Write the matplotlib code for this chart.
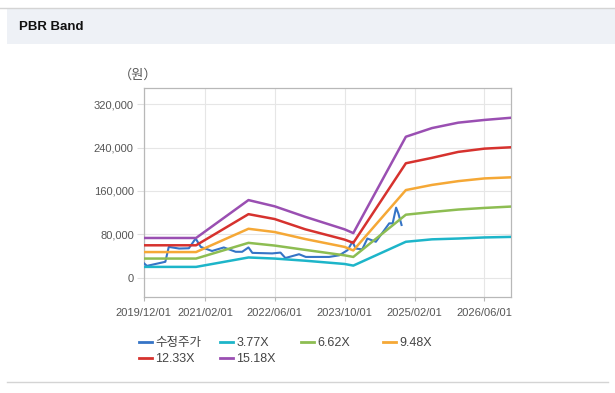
import numpy as np
import matplotlib
matplotlib.use('Agg')
import matplotlib.pyplot as plt
import matplotlib.dates as mdates
from matplotlib.lines import Line2D
from matplotlib.patches import Rectangle
from matplotlib.ticker import FuncFormatter

plt.rcParams['font.family'] = ['Liberation Sans', 'Noto Sans CJK KR']

# adjusted close (수정주가)
price_dates = np.array(['2019-12-01', '2019-12-25', '2020-05-01', '2020-05-25', '2020-08-05',
                        '2020-10-12', '2020-11-28', '2021-01-03', '2021-03-22', '2021-06-12',
                        '2021-09-03', '2021-10-18', '2021-12-01', '2021-12-28', '2022-05-15',
                        '2022-07-12', '2022-08-15', '2022-11-18', '2023-01-04', '2023-06-15',
                        '2023-08-25', '2023-10-22', '2023-11-25', '2023-12-18', '2024-02-01',
                        '2024-03-08', '2024-05-06', '2024-07-04', '2024-08-07', '2024-08-31',
                        '2024-09-24', '2024-10-10', '2024-11-01'], dtype='datetime64[D]')
price = [27000, 21500, 29000, 56500, 53500,
         54000, 72000, 56500, 49000, 55500,
         47500, 47500, 55500, 45500, 44500,
         46000, 36000, 43000, 38000, 38000,
         41000, 50500, 66000, 53500, 52000,
         72000, 66000, 87500, 100000, 100000,
         129000, 118000, 97000]

# PBR bands
band_dates = np.array(['2019-12-01', '2020-12-01', '2021-12-01', '2022-06-01', '2023-01-01',
                       '2023-10-01', '2023-12-01', '2024-12-01', '2025-06-01', '2025-12-01',
                       '2026-06-01', '2026-12-01'], dtype='datetime64[D]')
band_377 = [19600, 19600, 37000, 35000, 31000, 25000, 22000, 66000, 70500, 72000, 74000, 75000]
band_662 = [35000, 35000, 64000, 59000, 51000, 41000, 38000, 116000, 121000, 125500, 128500, 131000]
band_948 = [47000, 47000, 90000, 84000, 71000, 56500, 50000, 161500, 171000, 178000, 183000, 185000]
band_1233 = [59500, 59500, 117000, 108000, 89000, 70000, 64000, 211000, 221000, 232000, 238000, 240500]
band_1518 = [73000, 73000, 143000, 131500, 112000, 89000, 82000, 260000, 276000, 286000, 291000, 295000]

labels = ['수정주가', '3.77X', '6.62X', '9.48X', '12.33X', '15.18X']
colors = ['#3574c6', '#1db5c9', '#8dbd52', '#f5a836', '#d6322e', '#9a4fb2']

tick_dates = np.array(['2019-12-01', '2021-02-01', '2022-06-01', '2023-10-01',
                       '2025-02-01', '2026-06-01'], dtype='datetime64[D]')
yticks = [0, 80000, 160000, 240000, 320000]

W, H = 615, 393
fig = plt.figure(figsize=(W / 100, H / 100), dpi=100)
fig.patch.set_facecolor('white')

# header bar
fig.patches.append(Rectangle((7 / W, 1 - 44 / H), 1, 36 / H, transform=fig.transFigure,
                             facecolor='#eef1f6', edgecolor='none', zorder=0))
fig.lines.append(Line2D([0, 1], [1 - 8 / H, 1 - 8 / H], transform=fig.transFigure,
                        color='#d4d4d4', lw=1))
fig.lines.append(Line2D([7 / W, 608 / W], [1 - 382 / H, 1 - 382 / H], transform=fig.transFigure,
                        color='#d4d4d4', lw=1))
fig.text(19 / W, 1 - 27 / H, 'PBR Band', fontsize=9.5, fontweight='bold', color='#111111',
         va='center', ha='left')

ax = fig.add_axes([143.5 / W, 1 - 297 / H, (510.7 - 143.5) / W, (297 - 88) / H])

ax.plot(price_dates, price, color=colors[0], lw=1.5, zorder=3)
bands = [band_377, band_662, band_948, band_1233, band_1518]
for vals, c in zip(bands, colors[1:]):
    ax.plot(band_dates, vals, color=c, lw=1.8, zorder=3)

ax.set_xlim(np.datetime64('2019-12-01'), np.datetime64('2026-12-01'))
ax.set_ylim(-36000, 350000)
ax.set_xticks(tick_dates)
ax.xaxis.set_major_formatter(mdates.DateFormatter('%Y/%m/%d'))
ax.set_yticks(yticks)
ax.yaxis.set_major_formatter(FuncFormatter(lambda v, p: '{:,.0f}'.format(v)))
ax.grid(True, color='#e6e6e6', lw=0.8, zorder=0)
ax.set_axisbelow(True)
for s in ax.spines.values():
    s.set_color('#b8b8b8')
    s.set_linewidth(0.9)
ax.tick_params(axis='x', length=3, color='#b8b8b8', labelsize=8, labelcolor='#555555', pad=5)
ax.tick_params(axis='y', length=5, color='#e0e0e0', labelsize=8, labelcolor='#555555', pad=2)

fig.text(119 / W, 1 - 75 / H, '（원）', fontsize=9.5, color='#555555', va='center', ha='left')

# legend: four fixed-width columns
handles = [Line2D([], [], color=c, lw=2) for c in colors]
cols = [[0, 4], [1, 5], [2], [3]]
col_x = [139, 220, 301, 383]
for idx, x in zip(cols, col_x):
    leg = fig.legend([handles[i] for i in idx], [labels[i] for i in idx],
                     loc='upper left', bbox_to_anchor=(x / W, 1 - 337 / H),
                     frameon=False, fontsize=9, handlelength=1.0, handletextpad=0.3,
                     labelspacing=0.35, borderpad=0, borderaxespad=0)
    for t in leg.get_texts():
        t.set_color('#444444')

fig.savefig('out.png', dpi=100)
